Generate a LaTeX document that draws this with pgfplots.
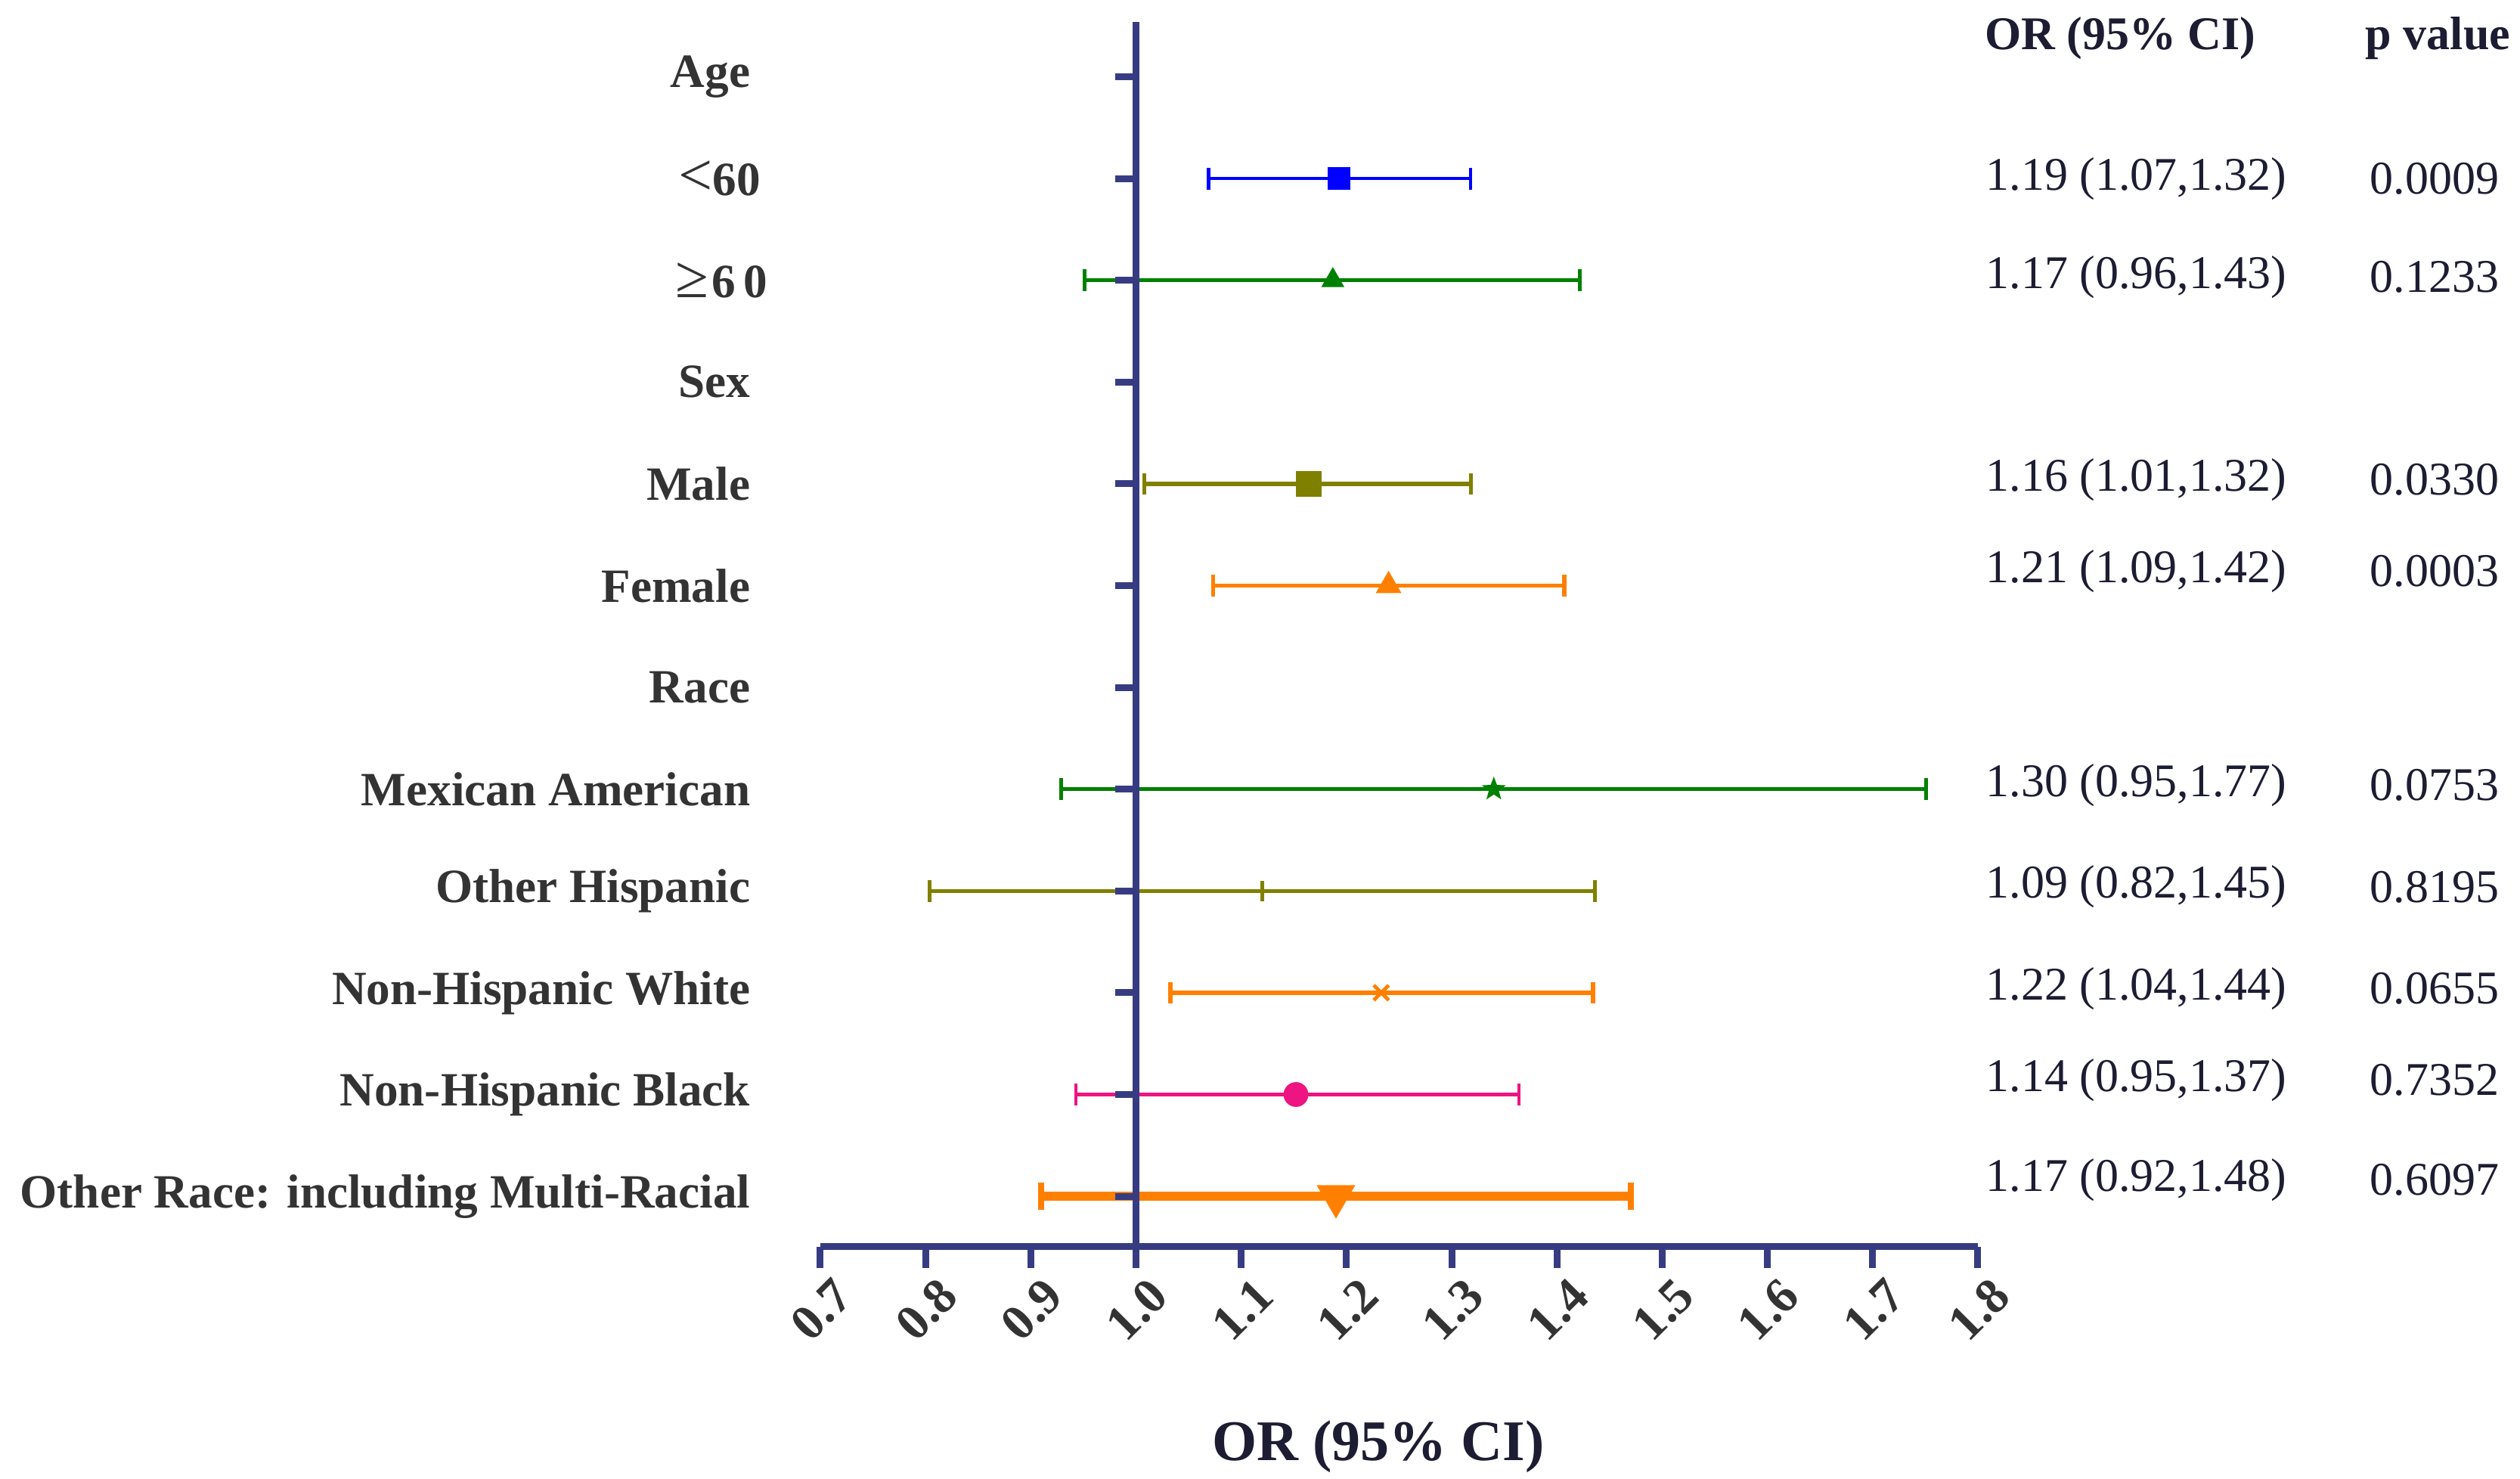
\documentclass[border=0pt]{standalone}
\usepackage{fontspec}
\setmainfont{Liberation Serif}
\usepackage{pgfplots}
\pgfplotsset{compat=1.18}
\definecolor{navy}{RGB}{55,60,130}
\definecolor{cblue}{RGB}{0,0,255}
\definecolor{cgreen}{RGB}{0,128,0}
\definecolor{colive}{RGB}{128,128,0}
\definecolor{corange}{RGB}{255,128,0}
\definecolor{cpink}{RGB}{238,20,130}
\definecolor{lbl}{RGB}{51,51,51}
\definecolor{num}{RGB}{28,28,50}
\newcommand\bigfont{\fontsize{15.8}{18}\selectfont}
\newcommand\tickfont{\fontsize{16.5}{18}\selectfont}
\newcommand\symfont{\fontsize{20}{20}\selectfont\mdseries}
\pgfdeclareplotmark{fstar}{%
  \pgfpathmoveto{\pgfpointpolar{90}{\pgfplotmarksize}}%
  \pgfpathlineto{\pgfpointpolar{126}{0.42\pgfplotmarksize}}%
  \pgfpathlineto{\pgfpointpolar{162}{\pgfplotmarksize}}%
  \pgfpathlineto{\pgfpointpolar{198}{0.42\pgfplotmarksize}}%
  \pgfpathlineto{\pgfpointpolar{234}{\pgfplotmarksize}}%
  \pgfpathlineto{\pgfpointpolar{270}{0.42\pgfplotmarksize}}%
  \pgfpathlineto{\pgfpointpolar{306}{\pgfplotmarksize}}%
  \pgfpathlineto{\pgfpointpolar{342}{0.42\pgfplotmarksize}}%
  \pgfpathlineto{\pgfpointpolar{18}{\pgfplotmarksize}}%
  \pgfpathlineto{\pgfpointpolar{54}{0.42\pgfplotmarksize}}%
  \pgfpathclose
  \pgfusepathqfillstroke
}
\pgfplotsset{
  ci/.style={only marks, error bars/.cd, x dir=both, x explicit,
    error bar style={line width=#1}, error mark options={rotate=90, line width=#1, mark size=3.6pt}},
}
\begin{document}
\begin{tikzpicture}
\path[use as bounding box] (-271.25pt,-76.6pt) rectangle (562pt,412.2pt);
\begin{axis}[
  at={(0pt,0pt)}, anchor=south west,
  scale only axis, width=382.75pt, height=404.9pt,
  xmin=0.7, xmax=1.8, ymin=0.5045, ymax=12.538,
  clip=false,
  axis x line=bottom, axis y line=left,
  x axis line style={-, line width=2.25pt, draw=navy},
  y axis line style={draw=none},
  xtick={0.7,0.8,0.9,1.0,1.1,1.2,1.3,1.4,1.5,1.6,1.7,1.8},
  xticklabels={0.7,0.8,0.9,1.0,1.1,1.2,1.3,1.4,1.5,1.6,1.7,1.8},
  xtick style={line width=2.25pt, draw=navy},
  tick align=outside, major tick length=7pt,
  xticklabel style={rotate=45, anchor=east, inner sep=0pt, yshift=-10pt, xshift=1pt, font=\tickfont\bfseries, text=lbl},
  ytick={1,...,12},
  ytick style={draw=none},
  yticklabels={Other Race: including Multi-Racial, Non-Hispanic Black, Non-Hispanic White, Other Hispanic, Mexican American, Race, Female, Male, Sex, {{\symfont ≥}\kern1pt\textbf{6\,0}\kern-5.75pt}, {{\symfont <}\textbf{60}\kern-3.5pt}, Age},
  yticklabel style={anchor=east, inner sep=0pt, xshift=-16pt, font=\bigfont\bfseries, text=lbl},
  xlabel={OR (95\% CI)},
  xlabel style={at={(axis description cs:0.482,0)}, anchor=center, yshift=-66pt, font=\fontsize{19}{22}\selectfont\bfseries, text=num},
]
% <60
\addplot[cblue, mark=square*, mark size=3.5pt, ci=1.1pt] table[x=m, y=r, x error plus expr=\thisrow{h}-\thisrow{m}, x error minus expr=\thisrow{m}-\thisrow{l}, row sep=\\] {r l m h\\ 11 1.069 1.193 1.318\\};
% >=60
\addplot[cgreen, mark=triangle*, mark size=4pt, ci=1.3pt] table[x=m, y=r, x error plus expr=\thisrow{h}-\thisrow{m}, x error minus expr=\thisrow{m}-\thisrow{l}, row sep=\\] {r l m h\\ 10 0.951 1.187 1.422\\};
% Male
\addplot[colive, mark=square*, mark size=4pt, ci=1.3pt] table[x=m, y=r, x error plus expr=\thisrow{h}-\thisrow{m}, x error minus expr=\thisrow{m}-\thisrow{l}, row sep=\\] {r l m h\\ 8 1.008 1.164 1.318\\};
% Female
\addplot[corange, mark=triangle*, mark size=4.5pt, ci=1.3pt] table[x=m, y=r, x error plus expr=\thisrow{h}-\thisrow{m}, x error minus expr=\thisrow{m}-\thisrow{l}, row sep=\\] {r l m h\\ 7 1.073 1.240 1.407\\};
% Mexican American
\addplot[cgreen, mark=fstar, mark size=3.6pt, ci=1.3pt] table[x=m, y=r, x error plus expr=\thisrow{h}-\thisrow{m}, x error minus expr=\thisrow{m}-\thisrow{l}, row sep=\\] {r l m h\\ 5 0.929 1.340 1.751\\};
% Other Hispanic
\addplot[colive, mark=+, mark size=3.3pt, mark options={line width=1.2pt}, ci=1.3pt] table[x=m, y=r, x error plus expr=\thisrow{h}-\thisrow{m}, x error minus expr=\thisrow{m}-\thisrow{l}, row sep=\\] {r l m h\\ 4 0.804 1.120 1.436\\};
% Non-Hispanic White
\addplot[corange, mark=x, mark size=3.5pt, mark options={line width=1.2pt}, ci=1.5pt] table[x=m, y=r, x error plus expr=\thisrow{h}-\thisrow{m}, x error minus expr=\thisrow{m}-\thisrow{l}, row sep=\\] {r l m h\\ 3 1.033 1.233 1.434\\};
% Non-Hispanic Black
\addplot[cpink, mark=*, mark size=3.9pt, ci=1.1pt] table[x=m, y=r, x error plus expr=\thisrow{h}-\thisrow{m}, x error minus expr=\thisrow{m}-\thisrow{l}, row sep=\\] {r l m h\\ 2 0.943 1.152 1.364\\};
% Other Race
\addplot[corange, mark=triangle*, mark size=7pt, mark options={rotate=180}, only marks, error bars/.cd, x dir=both, x explicit, error bar style={line width=3pt}, error mark options={rotate=90, line width=2pt, mark size=4.6pt}] table[x=m, y=r, x error plus expr=\thisrow{h}-\thisrow{m}, x error minus expr=\thisrow{m}-\thisrow{l}, row sep=\\] {r l m h\\ 1 0.910 1.190 1.470\\};
% right-hand columns
\begin{scope}[every node/.style={anchor=west, inner sep=0pt, font=\fontsize{15.5}{18}\selectfont, text=num}]
\node[font=\fontsize{15.5}{18}\selectfont\bfseries] at (axis cs:1.806,12.38) {OR (95\% CI)};
\node[font=\fontsize{15.5}{18}\selectfont\bfseries] at (axis cs:2.168,12.38) {p value};
\node at (axis cs:1.807,11.00) {1.19 (1.07,1.32)};
\node at (axis cs:1.807,10.03) {1.17 (0.96,1.43)};
\node at (axis cs:1.807,8.04) {1.16 (1.01,1.32)};
\node at (axis cs:1.807,7.14) {1.21 (1.09,1.42)};
\node at (axis cs:1.807,5.04) {1.30 (0.95,1.77)};
\node at (axis cs:1.807,4.04) {1.09 (0.82,1.45)};
\node at (axis cs:1.807,3.04) {1.22 (1.04,1.44)};
\node at (axis cs:1.807,2.14) {1.14 (0.95,1.37)};
\node at (axis cs:1.807,1.16) {1.17 (0.92,1.48)};
\node at (axis cs:2.172,11.00) {0.0009};
\node at (axis cs:2.172,10.03) {0.1233};
\node at (axis cs:2.172,8.04) {0.0330};
\node at (axis cs:2.172,7.14) {0.0003};
\node at (axis cs:2.172,5.04) {0.0753};
\node at (axis cs:2.172,4.04) {0.8195};
\node at (axis cs:2.172,3.04) {0.0655};
\node at (axis cs:2.172,2.14) {0.7352};
\node at (axis cs:2.172,1.16) {0.6097};
\end{scope}
\end{axis}
% reference line at OR = 1 with row ticks
\begin{axis}[
  at={(104.3pt,0pt)}, anchor=south west,
  scale only axis, width=10pt, height=404.9pt,
  xmin=0, xmax=1, ymin=0.5045, ymax=12.538,
  axis x line=none, axis y line=left,
  y axis line style={-, line width=2.25pt, draw=navy},
  ytick={1,...,12}, yticklabels={},
  tick align=outside, major tick length=6.75pt,
  ytick style={line width=2.25pt, draw=navy},
]
\end{axis}
\end{tikzpicture}
\end{document}
